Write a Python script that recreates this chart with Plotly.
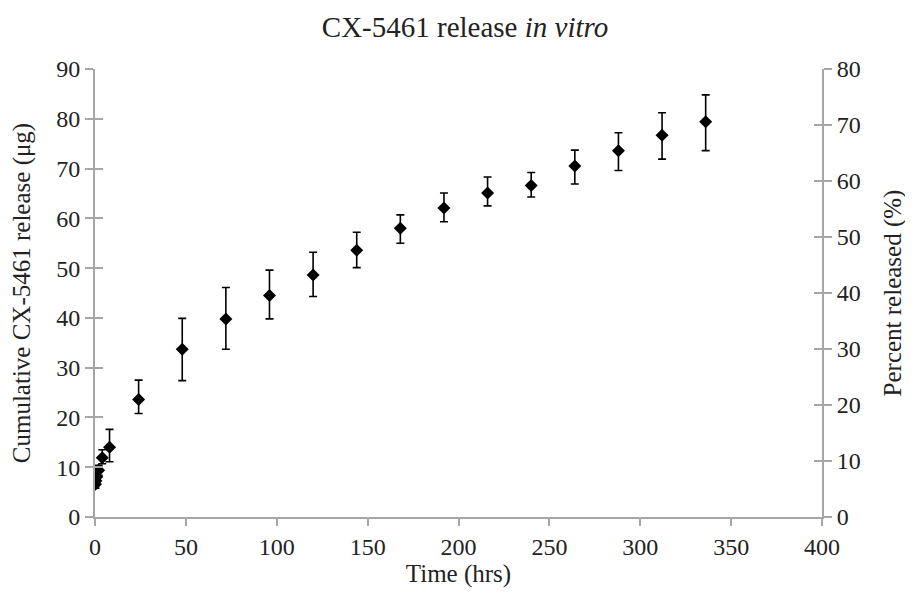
import plotly.graph_objects as go

time_hrs = [0.25, 0.5, 1, 2, 4, 8, 24, 48, 72, 96, 120, 144, 168, 192, 216, 240, 264, 288, 312, 336]
release_ug = [6.6, 7.3, 8.1, 9.4, 11.9, 14.0, 23.6, 33.7, 39.8, 44.5, 48.6, 53.6, 58.0, 62.1, 65.1, 66.6, 70.5, 73.6, 76.7, 79.4]
err_plus = [0.8, 0.8, 0.9, 1.0, 1.6, 3.6, 3.9, 6.2, 6.3, 5.1, 4.6, 3.6, 2.7, 3.0, 3.2, 2.6, 3.2, 3.6, 4.5, 5.4]
err_minus = [0.8, 0.8, 0.9, 1.0, 1.2, 2.9, 2.8, 6.3, 6.1, 4.7, 4.3, 3.5, 3.0, 2.8, 2.6, 2.3, 3.6, 4.0, 4.8, 5.8]

x_ticks = [0, 50, 100, 150, 200, 250, 300, 350, 400]
y_left_ticks = [0, 10, 20, 30, 40, 50, 60, 70, 80, 90]
y_right_ticks = [0, 10, 20, 30, 40, 50, 60, 70, 80]

FONT = "Liberation Serif"
AXC = "#a6a6a6"
TXT = "#222"

fig = go.Figure()
fig.add_trace(go.Scatter(
    x=time_hrs, y=release_ug, mode="markers",
    marker=dict(symbol="diamond", size=10, color="black"),
    error_y=dict(type="data", symmetric=False, array=err_plus, arrayminus=err_minus,
                 color="black", thickness=1.6, width=4),
    showlegend=False, hoverinfo="skip"))
# invisible traces to display the secondary axes
fig.add_trace(go.Scatter(x=[None], y=[None], yaxis="y2", showlegend=False))
fig.add_trace(go.Scatter(x=[None], y=[None], yaxis="y3", showlegend=False))
fig.add_trace(go.Scatter(x=[None], y=[None], yaxis="y4", showlegend=False))

tickfont = dict(family=FONT, size=24, color=TXT)
titlefont = dict(family=FONT, size=25, color=TXT)
fig.update_layout(
    width=905, height=596,
    margin=dict(l=87, r=91, t=61, b=87, autoexpand=False),
    paper_bgcolor="white", plot_bgcolor="white",
    title=dict(text="CX-5461 release <i>in vitro</i>", x=0.505, xanchor="center",
               y=0.985, yanchor="top", font=dict(family=FONT, size=29, color=TXT)),
    xaxis=dict(range=[0, 400], tickvals=x_ticks, showgrid=False, zeroline=False,
               showline=True, linecolor=AXC, linewidth=2, ticks="outside",
               ticklen=7, tickwidth=2, tickcolor=AXC, tickfont=tickfont, automargin=False,
               title=dict(text="Time (hrs)", font=titlefont, standoff=6)),
    yaxis=dict(range=[0, 90], tickvals=y_left_ticks, showgrid=False, zeroline=False,
               showline=True, linecolor=AXC, linewidth=2, ticks="outside",
               ticklen=8, tickwidth=2, tickcolor=AXC, tickfont=tickfont, automargin=False,
               title=dict(text="Cumulative CX-5461 release (μg)", font=titlefont, standoff=18)),
    yaxis3=dict(range=[0, 90], tickvals=y_left_ticks, overlaying="y", side="left",
                showgrid=False, zeroline=False, showline=False, ticks="inside",
                ticklen=8, tickwidth=2, tickcolor=AXC, showticklabels=False, automargin=False),
    yaxis2=dict(range=[0, 80], tickvals=y_right_ticks, overlaying="y", side="right",
                showgrid=False, zeroline=False, showline=True, linecolor=AXC, linewidth=2,
                ticks="outside", ticklen=8, tickwidth=2, tickcolor=AXC, tickfont=tickfont,
                automargin=False,
                title=dict(text="Percent released (%)", font=titlefont, standoff=24)),
    yaxis4=dict(range=[0, 80], tickvals=y_right_ticks, overlaying="y", side="right",
                showgrid=False, zeroline=False, showline=False, ticks="inside",
                ticklen=8, tickwidth=2, tickcolor=AXC, showticklabels=False, automargin=False),
)

fig.write_html("out.html")
